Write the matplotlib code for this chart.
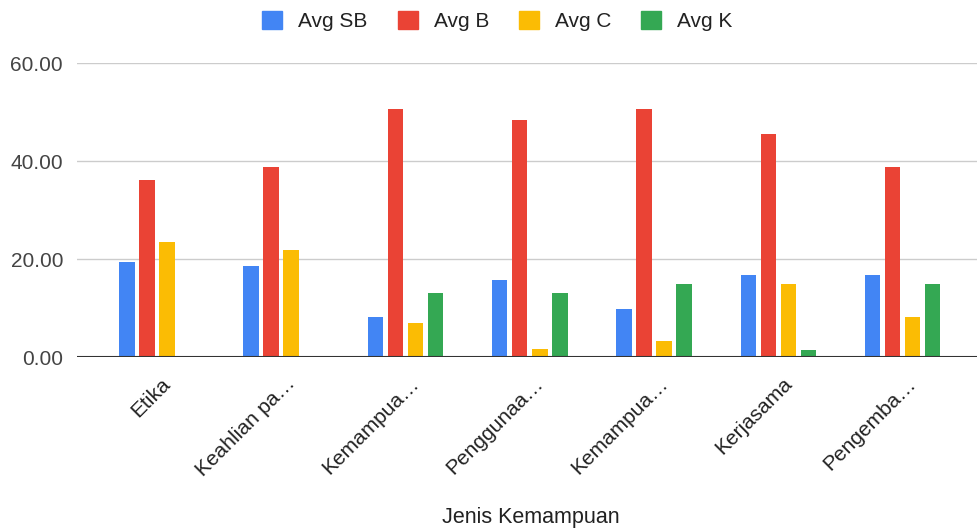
import numpy as np
import matplotlib.pyplot as plt
import matplotlib.transforms as mtransforms
from matplotlib.patches import Patch

plt.rcParams['font.family'] = ['Liberation Sans', 'DejaVu Sans']

categories = ["Etika", "Keahlian pa…", "Kemampua…", "Penggunaa…",
              "Kemampua…", "Kerjasama", "Pengemba…"]
series_names = ["Avg SB", "Avg B", "Avg C", "Avg K"]
avg_sb = [19.5, 18.6, 8.3, 15.8, 9.8, 16.7, 16.7]
avg_b = [36.2, 38.8, 50.6, 48.4, 50.6, 45.5, 38.8]
avg_c = [23.6, 21.8, 7.1, 1.6, 3.4, 15.0, 8.3]
avg_k = [0.0, 0.0, 13.1, 13.1, 15.0, 1.5, 15.0]
yticks = [0, 20, 40, 60]

colors = ["#4285F4", "#EA4335", "#FBBC04", "#34A853"]

fig = plt.figure(figsize=(9.77, 5.32), dpi=100)
ax = fig.add_axes([77 / 977, 1 - 357.3 / 532, 900 / 977, 294 / 532])

x = np.arange(len(categories))
step = 0.161
width = 0.125
for i, (vals, col) in enumerate(zip([avg_sb, avg_b, avg_c, avg_k], colors)):
    ax.bar(x + (i - 1.5) * step, vals, width=width, color=col, zorder=3)

ax.set_xlim(-0.642, 6.598)
ax.set_ylim(0, 60)
ax.set_yticks(yticks)
ax.set_yticklabels([f"{v:.2f}" for v in yticks])
ax.yaxis.grid(True, color="#cccccc", linewidth=1, zorder=0)
ax.axhline(0, color="#333333", linewidth=1.5, zorder=4)
for s in ax.spines.values():
    s.set_visible(False)
ax.tick_params(axis="both", length=0, labelsize=15, labelcolor="#444444")
ax.tick_params(axis="y", pad=10)

ax.set_xticks(x)
ax.set_xticklabels(categories, rotation=45, ha="right", va="top",
                   rotation_mode="anchor", fontsize=15, color="#222222")
ax.tick_params(axis="x", pad=12)
shift = mtransforms.ScaledTranslation(4 / 100, 0, fig.dpi_scale_trans)
for lbl in ax.get_xticklabels():
    lbl.set_transform(lbl.get_transform() + shift)

fig.text(531 / 977, 1 - 517 / 532, "Jenis Kemampuan", fontsize=15.5,
         color="#222222", ha="center", va="center")

handles = [Patch(facecolor=c, edgecolor=c) for c in colors]
fig.legend(handles, series_names, loc="center", bbox_to_anchor=(497.5 / 977, 1 - 21 / 532),
           ncol=4, frameon=False, fontsize=15, handlelength=0.96, handleheight=1.0,
           handletextpad=0.77, columnspacing=1.44, labelcolor="#222222")

fig.savefig("out.png", dpi=100, facecolor="white")
